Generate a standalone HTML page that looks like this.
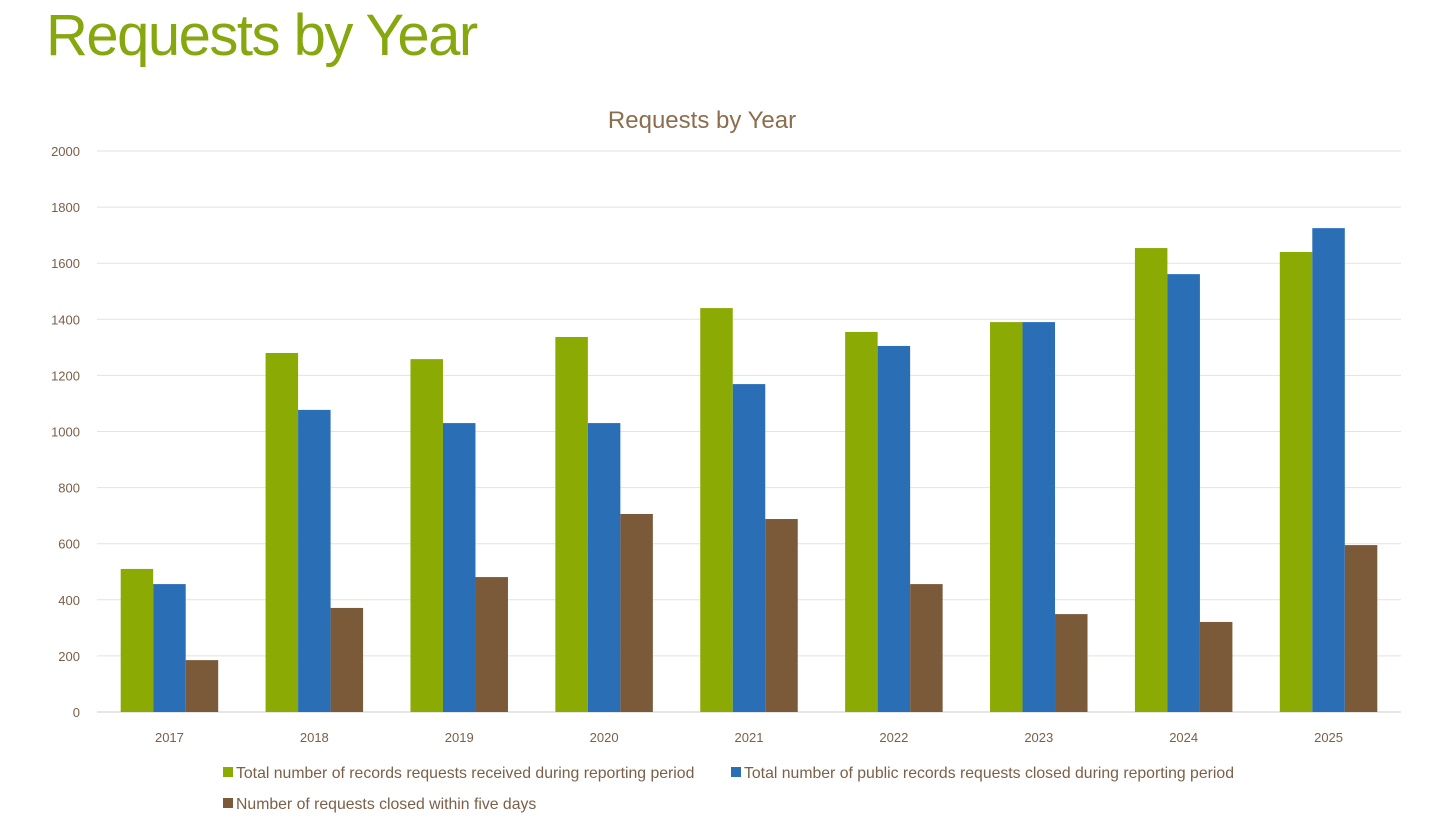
<!DOCTYPE html>
<html><head><meta charset="utf-8"><style>
body{margin:0;background:#fff;width:1456px;height:824px;overflow:hidden;font-family:"Liberation Sans",sans-serif}
#main-title{position:absolute;left:46px;top:2px;font-size:58px;color:#86A70D;letter-spacing:-1.5px;margin:0;font-weight:normal}
</style></head><body>
<h1 id="main-title">Requests by Year</h1>
<svg id="chart" width="1456" height="824" style="position:absolute;left:0;top:0"></svg>
<script>
const categories=["2017","2018","2019","2020","2021","2022","2023","2024","2025"];
const received=[510,1280,1258,1337,1440,1355,1390,1654,1640];
const closed=[456,1077,1030,1030,1169,1305,1390,1561,1725];
const closedFive=[185,371,481,706,688,456,349,321,595];
const yTicks=[0,200,400,600,800,1000,1200,1400,1600,1800,2000];
const seriesNames=["Total number of records requests received during reporting period","Total number of public records requests closed during reporting period","Number of requests closed within five days"];
const colors=["#8BAA04","#2A6EB6","#7B5A3A"];
const svg=document.getElementById('chart');const NS="http://www.w3.org/2000/svg";
const L=97,R=1401,T=151,B=712;
const y=v=>B-(v/2000)*(B-T);
const bw=(R-L)/categories.length;
const x=i=>L+bw*i+bw/2;
function mk(t,a,p){const e=document.createElementNS(NS,t);for(const k in a)e.setAttribute(k,a[k]);(p||svg).appendChild(e);return e;}
const title=mk('text',{x:702,y:128,'text-anchor':'middle','font-size':24,fill:'#8C6D4E'});


title.textContent="Requests by Year";
yTicks.forEach(v=>{
 const g=mk('line',{x1:L,x2:R,y1:y(v),y2:y(v),stroke:v===0?'#d0ccc6':'#e6e2dc','stroke-width':1});
 
 
 const t=mk('text',{x:80,y:y(v)+5,'text-anchor':'end','font-size':13,fill:'#7A6048'});
 
 
 t.textContent=v;
});
const series=[received,closed,closedFive];
const barW=32.5;
categories.forEach((c,i)=>{
 series.forEach((s,j)=>{
  const r=mk('rect',{x:x(i)+(j-1.5)*barW,y:y(s[i]),width:barW,height:B-y(s[i]),fill:colors[j]});
  
  
 });
 const t=mk('text',{x:x(i),y:742,'text-anchor':'middle','font-size':13,fill:'#7A6048'});
 
 
 t.textContent=c;
});
const legPos=[[223,778],[731,778],[223,809]];
seriesNames.forEach((n,j)=>{
 const g=mk('g',{});
 
 
 mk('rect',{x:legPos[j][0],y:legPos[j][1]-11,width:10,height:10,fill:colors[j]},g);
 const t=mk('text',{x:legPos[j][0]+13,y:legPos[j][1],'font-size':15.8,fill:'#7A6048'},g);
 t.textContent=n;
});
</script>
</body></html>
